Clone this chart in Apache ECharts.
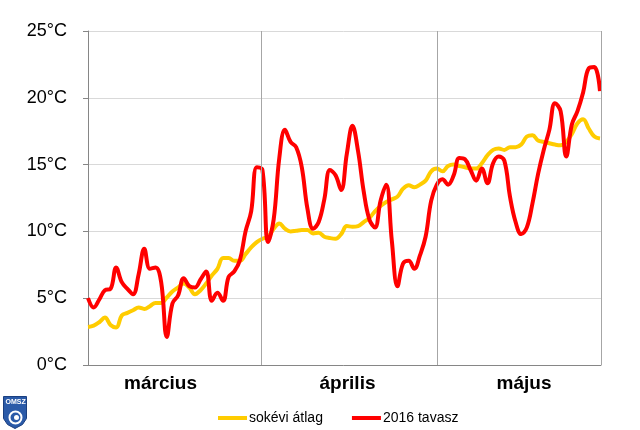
<!DOCTYPE html>
<html>
<head>
<meta charset="utf-8">
<script src="https://cdn.jsdelivr.net/npm/echarts@6/dist/echarts.min.js"></script>
<style>html,body{margin:0;padding:0;background:#fff;}#c{width:640px;height:430px;}</style>
</head>
<body>
<div id="c"></div>
<script>
// Months (category labels along the bottom)
const months = ['március', 'április', 'május'];
// Daily index 0..91 (1 March .. 31 May)
const days = Array.from({length: 92}, (_, i) => i);
// Long-term average (sokévi átlag), °C
const avgTemp = [
  2.85, 2.95, 3.2, 3.55, 3.0, 2.8, 3.7, 3.9, 4.1, 4.3,
  4.2, 4.4, 4.65, 4.65, 5.05, 5.5, 5.8, 6.1, 5.8, 5.3,
  5.6, 6.1, 6.7, 7.2, 8.0, 8.0, 7.8, 7.8, 8.3, 8.8,
  9.2, 9.45, 9.6, 10.2, 10.6, 10.2, 10.0, 10.05, 10.1, 10.1,
  9.85, 9.9, 9.6, 9.5, 9.45, 9.8, 10.4, 10.35, 10.4, 10.7,
  11.0, 11.5, 11.9, 12.2, 12.4, 12.6, 13.2, 13.45, 13.3, 13.5,
  13.8, 14.5, 14.7, 14.5, 14.9, 15.0, 14.9, 14.8, 14.7, 14.7,
  15.1, 15.7, 16.1, 16.2, 16.1, 16.3, 16.3, 16.5, 17.1, 17.2,
  16.8, 16.7, 16.6, 16.5, 16.45, 16.7, 17.3, 18.1, 18.4, 17.7,
  17.1, 16.95
];
// 2016 spring (2016 tavasz), °C
const spring2016 = [
  5.0, 4.3, 4.9, 5.6, 5.7, 7.3, 6.2, 5.7, 5.3, 6.8,
  8.7, 7.2, 7.3, 6.2, 2.1, 4.6, 5.2, 6.5, 5.9, 5.8,
  6.4, 7.0, 4.8, 5.4, 4.8, 6.6, 7.0, 7.85, 10.0, 11.5,
  14.8, 14.6, 9.2, 10.9, 15.5, 17.6, 16.7, 16.3, 14.8, 11.7,
  10.2, 10.7, 12.4, 14.6, 14.2, 13.1, 15.8, 17.9, 16.0, 13.0,
  10.9, 10.3, 12.3, 13.5, 9.3, 5.9, 7.6, 7.8, 7.2, 8.2,
  9.6, 12.3, 13.5, 13.9, 13.5, 14.2, 15.5, 15.4, 14.6, 13.8,
  14.7, 13.6, 15.1, 15.6, 15.3, 12.6, 10.7, 9.8, 10.3, 12.1,
  14.3, 16.1, 17.6, 19.6, 19.0, 15.6, 18.0, 19.0, 20.4, 22.2,
  22.3, 20.5
];
const yTicks = [0, 5, 10, 15, 20, 25];
const seriesNames = ['sokévi átlag', '2016 tavasz'];

const chart = echarts.init(document.getElementById('c'), null, {renderer: 'canvas'});
const monthLabelAt = [12.89, 46.12, 77.5];
const monthEdges = [30.75, 62.12, 91.18];
const FONT = 'Liberation Sans, Arial, sans-serif';

chart.setOption({
  animation: false,
  backgroundColor: '#ffffff',
  grid: {left: 86, right: 39, top: 31, bottom: 65, containLabel: false},
  legend: {
    data: seriesNames,
    left: 213, top: 406,
    itemGap: 29,
    itemWidth: 29, itemHeight: 4,
    icon: 'rect',
    textStyle: {fontFamily: FONT, fontSize: 14, color: '#000', padding: [0, 0, 0, -3]}
  },
  xAxis: {
    type: 'value',
    min: -0.36, max: 91.18,
    axisLine: {show: true, onZero: false, lineStyle: {color: '#868686', width: 1}},
    axisTick: {show: false},
    splitLine: {show: false},
    axisLabel: {
      show: true,
      customValues: monthLabelAt,
      margin: 9,
      fontFamily: FONT, fontSize: 19, fontWeight: 'bold', color: '#000',
      formatter: function (v) {
        const k = monthLabelAt.findIndex(m => Math.abs(m - v) < 0.01);
        return k >= 0 ? months[k] : '';
      }
    }
  },
  yAxis: {
    type: 'value',
    min: yTicks[0], max: yTicks[yTicks.length - 1], interval: 5,
    axisLine: {show: true, lineStyle: {color: '#868686', width: 1}},
    axisTick: {show: true, length: 5, lineStyle: {color: '#868686'}},
    splitLine: {show: true, lineStyle: {color: '#d9d9d9', width: 1}},
    axisLabel: {
      margin: 19,
      fontFamily: FONT, fontSize: 18, color: '#000',
      formatter: '{value}°C'
    }
  },
  series: [
    {
      name: seriesNames[0], type: 'line',
      data: days.map((d, i) => [d, avgTemp[i]]),
      smooth: 0.4, showSymbol: false, symbol: 'none',
      lineStyle: {color: '#ffcc00', width: 4},
      itemStyle: {color: '#ffcc00'},
      z: 3,
      markLine: {
        silent: true, symbol: 'none', animation: false,
        label: {show: false},
        lineStyle: {color: '#a6a6a6', width: 1, type: 'solid'},
        data: monthEdges.map(v => ({xAxis: v}))
      }
    },
    {
      name: seriesNames[1], type: 'line',
      data: days.map((d, i) => [d, spring2016[i]]),
      smooth: 0.4, showSymbol: false, symbol: 'none',
      lineStyle: {color: '#ff0000', width: 4},
      itemStyle: {color: '#ff0000'},
      z: 4
    }
  ],
  graphic: [
    {
      type: 'group', left: 3, top: 396,
      children: [
        {type: 'polygon', shape: {points: [[0,0],[23,0],[23,22],[19,28],[11.5,32],[4,28],[0,22]]},
         style: {fill: '#2a5aa8', stroke: '#1a3f80', lineWidth: 1}},
        {type: 'text', x: 2, y: 2,
         style: {text: 'OMSZ', fill: '#ffffff', font: 'bold 7px ' + FONT}},
        {type: 'circle', shape: {cx: 12, cy: 21, r: 6}, style: {fill: 'none', stroke: '#ffffff', lineWidth: 2}},
        {type: 'circle', shape: {cx: 13, cy: 21, r: 2.5}, style: {fill: '#ffffff'}}
      ]
    }
  ]
});
</script>
</body>
</html>
